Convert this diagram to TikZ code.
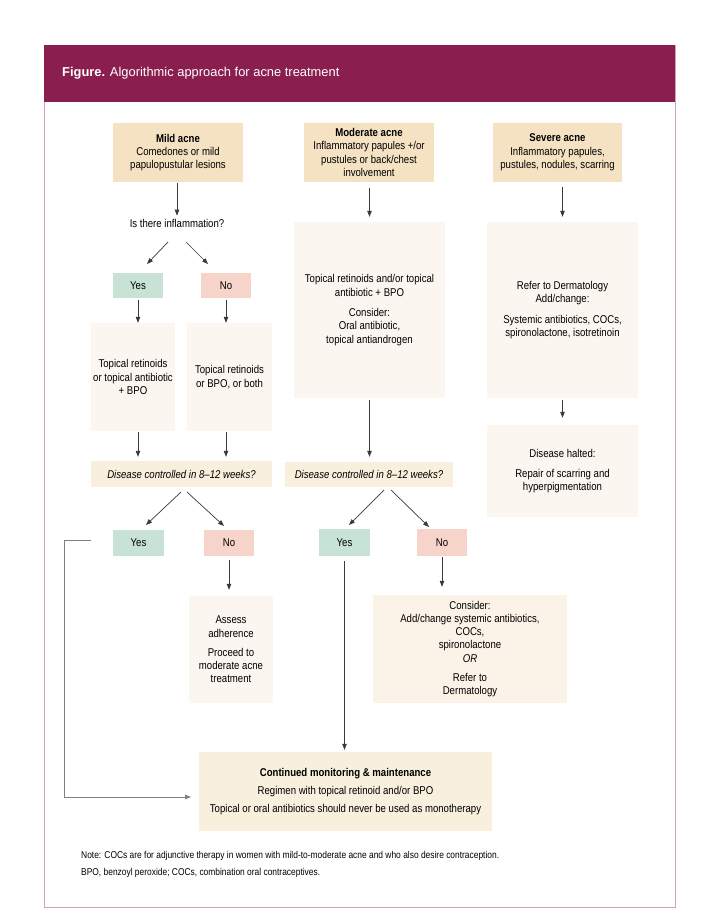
\documentclass[tikz,border=0pt]{standalone}
\usepackage{fontspec}
\setmainfont{Liberation Sans}[FakeStretch=0.85]
\newfontfamily\hdrfont{Liberation Sans}
\usetikzlibrary{arrows.meta}
\definecolor{hdrcol}{HTML}{8A1F4F}
\definecolor{framecol}{HTML}{CFA3BD}
\definecolor{tancol}{HTML}{F5E2C3}
\definecolor{lightcol}{HTML}{FCF6F0}
\definecolor{deccol}{HTML}{F8EFDD}
\definecolor{conscol}{HTML}{FBF3E8}
\definecolor{yescol}{HTML}{C8E3D6}
\definecolor{nocol}{HTML}{F7D4C9}
\definecolor{linecol}{HTML}{3A3A3A}
\definecolor{fbcol}{HTML}{808080}
\newcommand\bodyfs{\fontsize{11.3}{13.3}\selectfont}
\begin{document}
\begin{tikzpicture}[x=1pt,y=-1pt,
  box/.style={inner sep=0pt, align=center, font=\bodyfs, text=black},
  conn/.style={draw=linecol, line width=0.7pt, -{Triangle[length=6pt,width=4.5pt]}},
  fback/.style={draw=fbcol, line width=0.8pt, -{Triangle[length=6pt,width=4.5pt]}}]
\useasboundingbox (0,0) rectangle (720,924);
% frame and header
\draw[framecol, line width=0.8pt, fill=white] (44,45) rectangle (675,907);
\fill[hdrcol] (44,45) rectangle (675,102);
\node[anchor=west, inner sep=0pt, text=white, font=\hdrfont\fontsize{12.9}{15}\selectfont] (title) at (62,73) {\textbf{Figure.} Algorithmic approach for acne treatment};

% column 1
\node[box, fill=tancol, minimum width=130pt, minimum height=59pt] (mild) at (178,152.5) {\textbf{Mild acne}\\Comedones or mild\\papulopustular lesions};
\node[box] (q1) at (177,223) {Is there inflammation?};
\node[box, fill=yescol, minimum width=50pt, minimum height=25pt] (yes1) at (138,285.5) {Yes};
\node[box, fill=nocol, minimum width=50pt, minimum height=25pt] (no1) at (226,285.5) {No};
\node[box, fill=lightcol, minimum width=84pt, minimum height=108pt] (tl) at (133,377) {Topical retinoids\\or topical antibiotic\\+ BPO};
\node[box, fill=lightcol, minimum width=85pt, minimum height=108pt] (tr) at (229.5,377) {Topical retinoids\\or BPO, or both};
\node[box, fill=deccol, minimum width=181pt, minimum height=26pt] (d1) at (181.5,474) {\itshape Disease controlled in 8--12 weeks?};
\node[box, fill=yescol, minimum width=51pt, minimum height=26pt] (yes2) at (138.5,543) {Yes};
\node[box, fill=nocol, minimum width=50pt, minimum height=26pt] (no2) at (229,543) {No};
\node[box, fill=lightcol, minimum width=84pt, minimum height=107pt] (assess) at (231,649.5) {Assess\\adherence\\[6pt]Proceed to\\moderate acne\\treatment};

% column 2
\node[box, fill=tancol, minimum width=130pt, minimum height=59pt] (mod) at (369,152.5) {\textbf{Moderate acne}\\Inflammatory papules +/or\\pustules or back/chest\\involvement};
\node[box, fill=lightcol, minimum width=151pt, minimum height=176pt] (mbig) at (369.5,310) {Topical retinoids and/or topical\\antibiotic + BPO\\[7pt]Consider:\\Oral antibiotic,\\topical antiandrogen};
\node[box, fill=deccol, minimum width=168pt, minimum height=25pt] (d2) at (369,474.5) {\itshape Disease controlled in 8--12 weeks?};
\node[box, fill=yescol, minimum width=51pt, minimum height=27pt] (yes3) at (344.5,542.5) {Yes};
\node[box, fill=nocol, minimum width=50pt, minimum height=27pt] (no3) at (442,542.5) {No};
\node[box, fill=conscol, minimum width=194pt, minimum height=108pt] (cons) at (470,649) {Consider:\\Add/change systemic antibiotics,\\COCs,\\spironolactone\\\textit{OR}\\[6pt]Refer to\\Dermatology};

% column 3
\node[box, fill=tancol, minimum width=129pt, minimum height=59pt] (sev) at (557.5,152.5) {\textbf{Severe acne}\\Inflammatory papules,\\pustules, nodules, scarring};
\node[box, fill=lightcol, minimum width=151pt, minimum height=176pt] (ref) at (562.5,310) {Refer to Dermatology\\Add/change:\\[7pt]Systemic antibiotics, COCs,\\spironolactone, isotretinoin};
\node[box, fill=lightcol, minimum width=151pt, minimum height=92pt] (halt) at (562.5,471) {Disease halted:\\[7pt]Repair of scarring and\\hyperpigmentation};

% final
\node[box, fill=deccol, minimum width=293pt, minimum height=79pt] (final) at (345.5,791.5) {\textbf{Continued monitoring \& maintenance}\\[5pt]Regimen with topical retinoid and/or BPO\\[5pt]Topical or oral antibiotics should never be used as monotherapy};

% notes
\node[anchor=west, inner sep=0pt, font=\fontsize{9.9}{11}\selectfont] (note1) at (81,856) {Note: COCs are for adjunctive therapy in women with mild-to-moderate acne and who also desire contraception.};
\node[anchor=west, inner sep=0pt, font=\fontsize{9.9}{11}\selectfont] (note2) at (81,873) {BPO, benzoyl peroxide; COCs, combination oral contraceptives.};

% connectors column 1
\draw[conn, shorten <=1pt, shorten >=3pt] (mild.south -| q1.north) -- (q1.north);
\coordinate (q1l0) at (168,242); \coordinate (q1l1) at (147,264);
\coordinate (q1r0) at (186,242); \coordinate (q1r1) at (208,264);
\draw[conn] (q1l0) -- (q1l1);
\draw[conn] (q1r0) -- (q1r1);
\draw[conn, shorten <=2pt] (yes1.south) -- (yes1.south |- tl.north);
\draw[conn, shorten <=2pt] (no1.south) -- (no1.south |- tr.north);
\draw[conn, shorten <=1pt, shorten >=4pt] (yes1.south |- tl.south) -- (yes1.south |- d1.north);
\draw[conn, shorten <=1pt, shorten >=4pt] (no1.south |- tr.south) -- (no1.south |- d1.north);
\coordinate (d1l0) at (181,492); \coordinate (d1l1) at (146,525);
\coordinate (d1r0) at (187,492); \coordinate (d1r1) at (224,526);
\draw[conn] (d1l0) -- (d1l1);
\draw[conn] (d1r0) -- (d1r1);
\draw[conn, shorten <=4pt, shorten >=6pt] (no2.south) -- (no2.south |- assess.north);
% feedback
\coordinate (fb0) at (91,540);
\coordinate (fb1) at (64,540);
\coordinate (fb2) at (191,797);
\draw[fback] (fb0) -- (fb1) |- (fb2);

% connectors column 2
\draw[conn, shorten <=6pt, shorten >=5pt] (mod.south -| mbig.north) -- (mbig.north);
\draw[conn, shorten <=2pt, shorten >=5pt] (mbig.south) -- (mbig.south |- d2.north);
\coordinate (d2l0) at (384,490); \coordinate (d2l1) at (349,525);
\coordinate (d2r0) at (391,490); \coordinate (d2r1) at (429,527);
\draw[conn] (d2l0) -- (d2l1);
\draw[conn] (d2r0) -- (d2r1);
\draw[conn, shorten <=5pt, shorten >=2pt] (yes3.south) -- (yes3.south |- final.north);
\draw[conn, shorten <=1pt, shorten >=8pt] (no3.south) -- (no3.south |- cons.north);

% connectors column 3
\draw[conn, shorten <=5pt, shorten >=5pt] (sev.south -| ref.north) -- (ref.north);
\draw[conn, shorten <=2pt, shorten >=7pt] (ref.south) -- (halt.north);
\end{tikzpicture}
\end{document}
